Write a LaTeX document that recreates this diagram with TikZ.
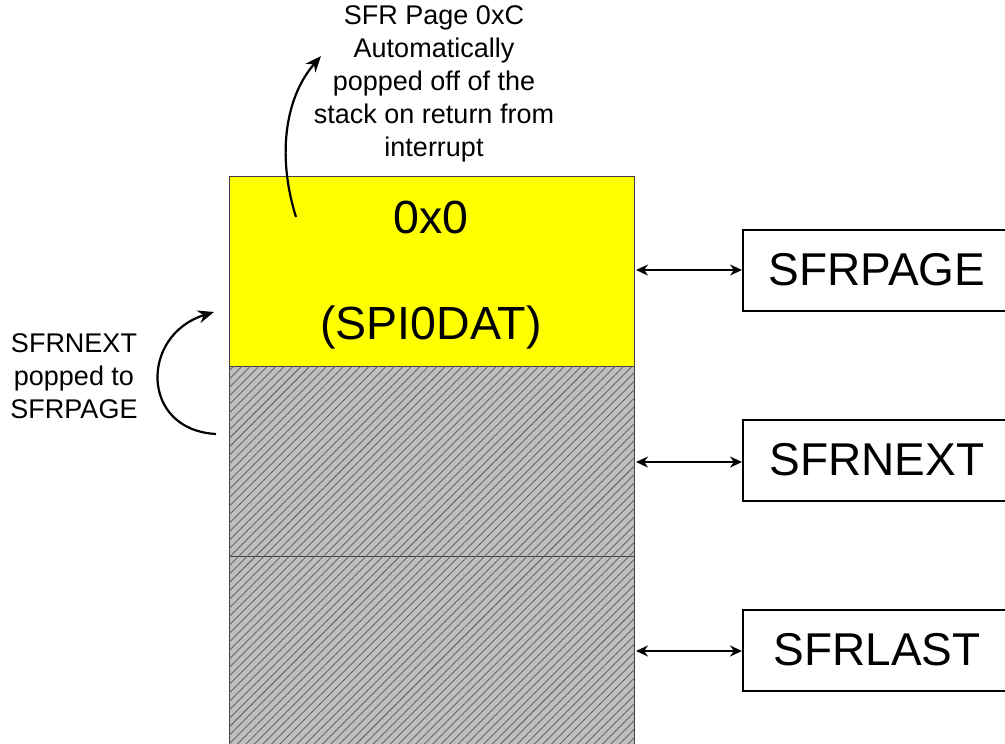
\documentclass[tikz,border=0pt]{standalone}
\usepackage{fontspec}
\setmainfont{Liberation Sans}
\usetikzlibrary{patterns.meta,arrows.meta}
\definecolor{pureyellow}{rgb}{1,1,0}
\begin{document}
\begin{tikzpicture}[x=1pt,y=-1pt,
  cell/.style={draw=black!75,line width=0.8pt},
  hatch/.style={cell,fill=black!25,postaction={pattern={Lines[angle=45,distance=6pt,line width=0.9pt]},pattern color=black!60}},
  regbox/.style={draw=black,line width=2pt,minimum width=268pt,minimum height=81pt,inner sep=0pt,font=\fontsize{46}{46}\selectfont},
  link/.style={line width=2pt,{Stealth[length=12pt,width=11pt]}-{Stealth[length=12pt,width=11pt]}},
  curv/.style={line width=2.2pt,-{Stealth[length=16pt,width=13pt]}},
  note/.style={align=center,font=\fontsize{27}{33}\selectfont,inner sep=0pt}]
\useasboundingbox (0,0) rectangle (1005,744);
\clip (0,0) rectangle (1005,744);
% stack
\node[cell,fill=pureyellow,minimum width=405pt,minimum height=190pt,inner sep=0pt,anchor=north west] (top) at (229,176) {};
\node[hatch,minimum width=405pt,minimum height=190pt,inner sep=0pt,anchor=north west] (mid) at (229,366) {};
\node[hatch,minimum width=405pt,minimum height=200pt,inner sep=0pt,anchor=north west] (bot) at (229,556) {};
\node[font=\fontsize{46.5}{46.5}\selectfont] (v) at (431,217) {0x0};
\node[font=\fontsize{46.5}{46.5}\selectfont] (n) at (431,327) {(SPI0DAT)};
% registers
\node[regbox,anchor=west] (sp) at (742,270) {SFRPAGE};
\node[regbox,anchor=west] (sn) at (742,460) {SFRNEXT};
\node[regbox,anchor=west] (sl) at (742,650) {SFRLAST};
\coordinate (a1) at (636,270);
\coordinate (a2) at (636,462);
\coordinate (a3) at (636,651);
\draw[link] (a1) -- (sp.west |- a1);
\draw[link] (a2) -- (sn.west |- a2);
\draw[link] (a3) -- (sl.west |- a3);
% notes
\node[note] (t) at (434,84) {SFR Page 0xC\\Automatically\\popped off of the\\stack on return from\\interrupt};
\node[note] (l) at (74,376) {SFRNEXT\\popped to\\SFRPAGE};
\coordinate (c1) at (296,217);
\coordinate (c2) at (321,56);
\draw[curv] (c1) .. controls (278,160) and (283,100) .. (c2);
\coordinate (d1) at (216,434);
\coordinate (d2) at (214,312);
\draw[curv] (d1) .. controls (140,430) and (140,335) .. (d2);
\end{tikzpicture}
\end{document}
